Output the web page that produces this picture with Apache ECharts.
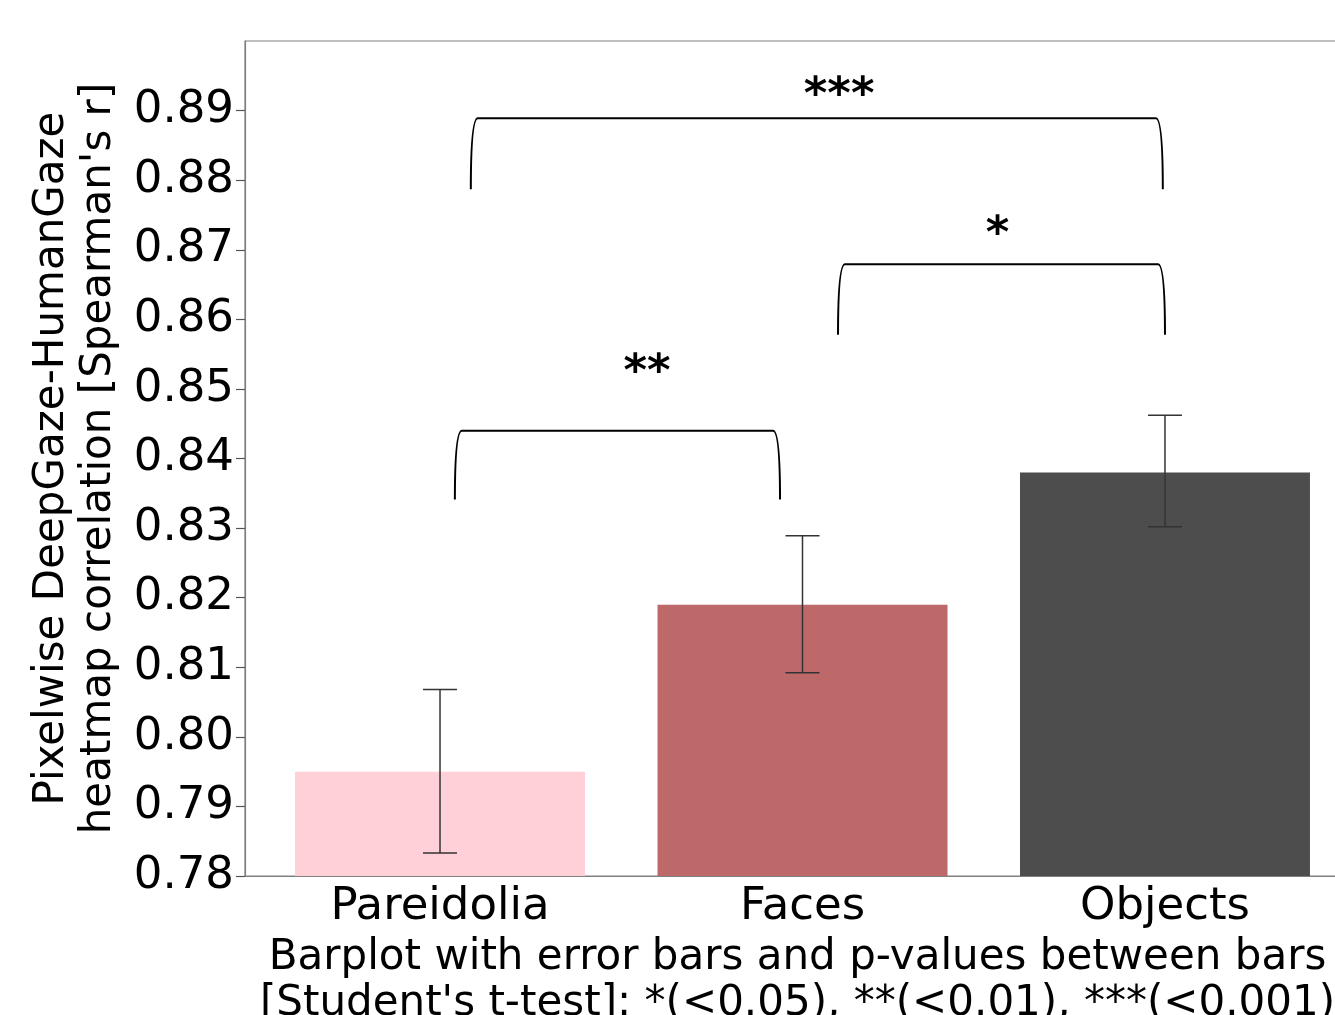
<!DOCTYPE html>
<html>
<head>
<meta charset="utf-8">
<script src="https://cdn.jsdelivr.net/npm/echarts@6/dist/echarts.min.js"></script>
<style>
  html, body { margin: 0; padding: 0; background: #fff; }
  #chart { width: 1335px; height: 1015px; }
</style>
</head>
<body>
<div id="chart"></div>
<script>
var categories = ['Pareidolia', 'Faces', 'Objects'];
var means = [0.795, 0.819, 0.838];
var errLow = [0.7833, 0.8092, 0.8302];
var errHigh = [0.8068, 0.8289, 0.8462];
var barColors = ['#ffd0d8', '#bd6969', '#4d4d4d'];

// significance brackets: left x, right x, leg bottom, bar top, label, label x, label y
var bracketLeft = [0.041, 1.098, 0.085];
var bracketRight = [0.938, 2.0, 1.994];
var bracketLow = [0.8341, 0.8578, 0.8787];
var bracketHigh = [0.8440, 0.8679, 0.8889];
var bracketText = ['**', '*', '***'];
var bracketTextX = [0.571, 1.538, 1.101];
var bracketTextY = [0.8537, 0.8735, 0.8935];

var yTicks = [0.78, 0.79, 0.80, 0.81, 0.82, 0.83, 0.84, 0.85, 0.86, 0.87, 0.88, 0.89];

var FONT = 'DejaVu Sans';

var barData = means.map(function (v, i) { return [i, v]; });
var errData = means.map(function (v, i) { return [i, errLow[i], errHigh[i]]; });
var bracketData = bracketText.map(function (t, i) {
    return [bracketLeft[i], bracketRight[i], bracketLow[i], bracketHigh[i], bracketTextX[i], bracketTextY[i]];
});

var chart = echarts.init(document.getElementById('chart'), null, { renderer: 'canvas' });

var option = {
    animation: false,
    backgroundColor: '#ffffff',
    grid: {
        left: 245, right: -25, top: 41, bottom: 139,
        containLabel: false,
        outerBoundsMode: 'none',
        show: true, borderColor: '#808080', borderWidth: 1.2, backgroundColor: 'transparent'
    },
    xAxis: {
        type: 'value',
        min: -0.538,
        max: 2.538,
        splitLine: { show: false },
        axisLine: { show: true, onZero: false, lineStyle: { color: '#808080', width: 1.2 } },
        axisTick: { show: false },
        axisLabel: {
            customValues: [0, 1, 2],
            formatter: function (v) { return categories[Math.round(v)]; },
            fontFamily: FONT, fontSize: 45, color: '#000', margin: 9
        },
        name: "Barplot with error bars and p-values between bars\n[Student's t-test]: *(<0.05), **(<0.01), ***(<0.001)",
        nameLocation: 'middle',
        nameGap: 56,
        nameTextStyle: { fontFamily: FONT, fontSize: 42, color: '#000', lineHeight: 46, padding: [0, 10, 0, 0] }
    },
    yAxis: {
        type: 'value',
        min: 0.78,
        max: 0.9,
        splitLine: { show: false },
        axisLine: { show: true, onZero: false, lineStyle: { color: '#808080', width: 1.2 } },
        axisTick: { show: true, customValues: yTicks, length: 9, lineStyle: { color: '#555', width: 1.2 } },
        axisLabel: {
            customValues: yTicks,
            formatter: function (v) { return v.toFixed(2); },
            fontFamily: FONT, fontSize: 45, color: '#000', margin: 11
        },
        name: "Pixelwise DeepGaze-HumanGaze\nheatmap correlation [Spearman's r]",
        nameLocation: 'middle',
        nameRotate: 90,
        nameGap: 108,
        nameTextStyle: { fontFamily: FONT, fontSize: 42, color: '#000', lineHeight: 47 }
    },
    series: [
        {
            type: 'custom',
            name: 'bars',
            data: barData,
            renderItem: function (params, api) {
                var i = api.value(0);
                var p0 = api.coord([i - 0.4, api.value(1)]);
                var p1 = api.coord([i + 0.4, 0.78]);
                return {
                    type: 'rect',
                    shape: { x: p0[0], y: p0[1], width: p1[0] - p0[0], height: p1[1] - p0[1] },
                    style: { fill: barColors[i] }
                };
            }
        },
        {
            type: 'custom',
            name: 'errors',
            data: errData,
            z: 3,
            renderItem: function (params, api) {
                var i = api.value(0);
                var lo = api.coord([i, api.value(1)]);
                var hi = api.coord([i, api.value(2)]);
                var cap = 17;
                var st = { stroke: '#333', lineWidth: 1.5 };
                return {
                    type: 'group',
                    children: [
                        { type: 'line', shape: { x1: lo[0], y1: lo[1], x2: hi[0], y2: hi[1] }, style: st },
                        { type: 'line', shape: { x1: lo[0] - cap, y1: lo[1], x2: lo[0] + cap, y2: lo[1] }, style: st },
                        { type: 'line', shape: { x1: hi[0] - cap, y1: hi[1], x2: hi[0] + cap, y2: hi[1] }, style: st }
                    ]
                };
            }
        },
        {
            type: 'custom',
            name: 'brackets',
            data: bracketData,
            z: 4,
            renderItem: function (params, api) {
                var idx = params.dataIndex;
                var lb = api.coord([api.value(0), api.value(2)]);
                var lt = api.coord([api.value(0), api.value(3)]);
                var rb = api.coord([api.value(1), api.value(2)]);
                var rt = api.coord([api.value(1), api.value(3)]);
                var tp = api.coord([api.value(4), api.value(5)]);
                var d = 7;
                var path = 'M' + lb[0] + ' ' + lb[1] +
                    ' Q' + lb[0] + ' ' + lt[1] + ' ' + (lt[0] + d) + ' ' + lt[1] +
                    ' L' + (rt[0] - d) + ' ' + rt[1] +
                    ' Q' + rb[0] + ' ' + rt[1] + ' ' + rb[0] + ' ' + rb[1];
                return {
                    type: 'group',
                    children: [
                        {
                            type: 'path',
                            shape: { pathData: path },
                            style: { stroke: '#000', lineWidth: 2, fill: null }
                        },
                        {
                            type: 'text',
                            x: tp[0], y: tp[1] + 10,
                            style: {
                                text: bracketText[idx],
                                fontFamily: FONT, fontSize: 45, fontWeight: 'bold',
                                fill: '#000', align: 'center', verticalAlign: 'middle'
                            }
                        }
                    ]
                };
            }
        }
    ]
};

chart.setOption(option);
</script>
</body>
</html>
